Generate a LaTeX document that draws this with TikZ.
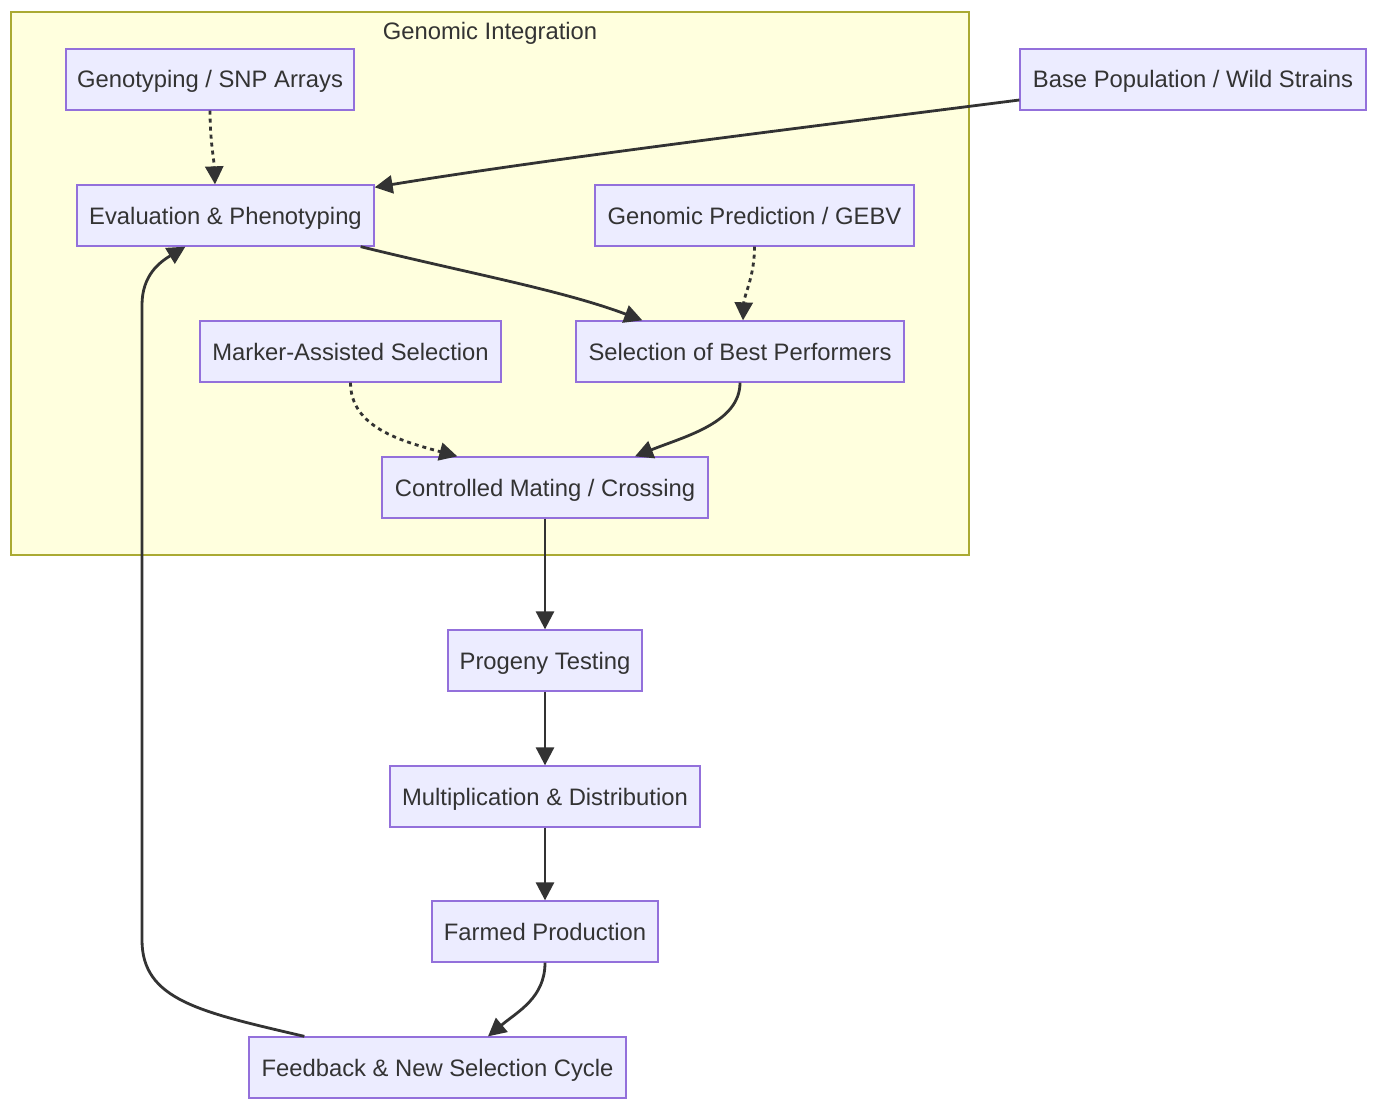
\documentclass[tikz,border=0pt]{standalone}
\usepackage{fontspec}
\setmainfont{Liberation Sans}
\usetikzlibrary{arrows.meta,calc}
\definecolor{nodefill}{HTML}{ECECFF}
\definecolor{nodeline}{HTML}{9370DB}
\definecolor{clusterfill}{HTML}{FFFFDE}
\definecolor{clusterline}{HTML}{AAAA33}
\definecolor{ink}{HTML}{333333}
\begin{document}
\begin{tikzpicture}[x=1pt,y=-1pt,
  box/.style={draw=nodeline,fill=nodefill,line width=1.3pt,minimum height=61pt,inner sep=0pt,text height=17pt,text depth=0pt,text=ink,font=\fontsize{23.8}{28}\selectfont},
  edge/.style={draw=ink,line width=2.8pt,-{Triangle[length=18pt,width=18pt]}},
  dotedge/.style={edge,dash pattern=on 4pt off 4pt}]
\useasboundingbox (0,0) rectangle (1378,1110);
\fill[white] (0,0) rectangle (1378,1110);
\draw[fill=clusterfill,draw=clusterline,line width=1.3pt] (11,12) rectangle (969,555);
\node[text=ink,text height=17pt,text depth=0pt,inner sep=0pt,font=\fontsize{23.8}{28}\selectfont] (clab) at (490,31) {Genomic Integration};

\node[box,minimum width=288pt] (geno) at (210,79.5) {Genotyping / SNP Arrays};
\node[box,minimum width=346pt] (base) at (1193,79.5) {Base Population / Wild Strains};
\node[box,minimum width=297pt] (eval) at (225.5,215.5) {Evaluation \& Phenotyping};
\node[box,minimum width=319pt] (gp) at (754.5,215.5) {Genomic Prediction / GEBV};
\node[box,minimum width=301pt] (mas) at (350.5,351.5) {Marker-Assisted Selection};
\node[box,minimum width=328pt] (sel) at (740,351.5) {Selection of Best Performers};
\node[box,minimum width=326pt] (cm) at (545,487.5) {Controlled Mating / Crossing};
\node[box,minimum width=194pt] (pt) at (545,660.5) {Progeny Testing};
\node[box,minimum width=310pt] (md) at (545,796.5) {Multiplication \& Distribution};
\node[box,minimum width=226pt] (fp) at (545,931.5) {Farmed Production};
\node[box,minimum width=377pt] (fb) at (437.5,1067.5) {Feedback \& New Selection Cycle};

\draw[dotedge] (geno.south) .. controls ++(0,30) and ++(-1,-25) .. ([xshift=-10.5pt]eval.north);
\draw[edge] ([yshift=-20.5pt]base.west) .. controls ++(-220,28) and ++(170,-28) .. ([yshift=-3pt]eval.north east);
\draw[edge] ([xshift=-14pt]eval.south east) .. controls ++(110,27) and ++(-80,-30) .. ([xshift=67pt]sel.north west);
\draw[dotedge] (gp.south) .. controls ++(0,30) and ++(1,-25) .. ([xshift=3pt]sel.north);
\draw[dotedge] (mas.south) .. controls ++(0,45) and ++(-55,-15) .. ([xshift=76pt]cm.north west);
\draw[edge] (sel.south) .. controls ++(0,40) and ++(50,-20) .. ([xshift=90pt]cm.north);
\draw[edge] (cm.south) -- (pt.north);
\draw[edge] (pt.south) -- (md.north);
\draw[edge] (md.south) -- (fp.north);
\draw[edge] (fp.south) .. controls ++(0,35) and ++(30,-25) .. ([xshift=50.5pt]fb.north);
\draw[edge] ([xshift=56pt]fb.north west) .. controls (200,1012) and (142,1000) .. (142,940) -- (142,305) .. controls (142,275) and (160,262) .. ([xshift=109pt]eval.south west);
\end{tikzpicture}
\end{document}
